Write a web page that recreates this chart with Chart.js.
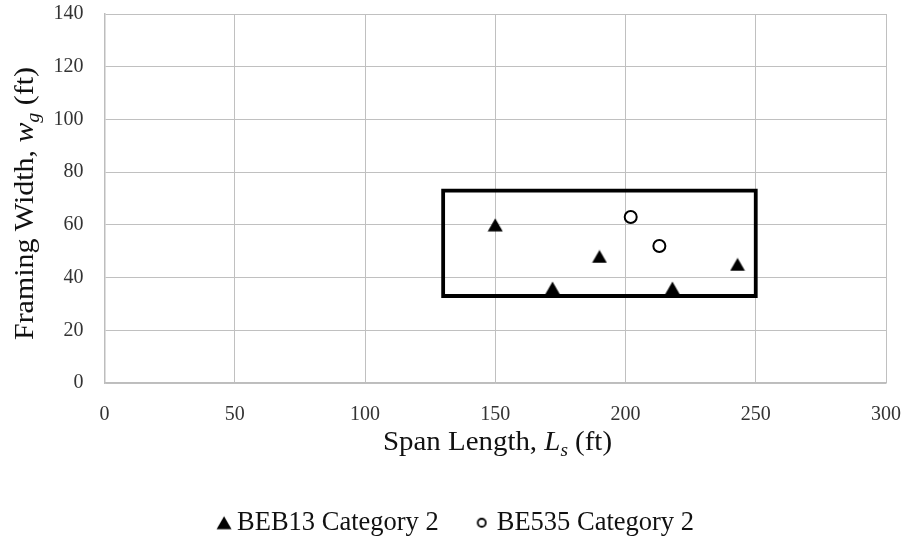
<!DOCTYPE html>
<html>
<head>
<meta charset="utf-8">
<script src="https://cdn.jsdelivr.net/npm/chart.js@4/dist/chart.umd.min.js"></script>
<style>
  html, body { margin: 0; padding: 0; background: #ffffff; }
  canvas { display: block; }
</style>
</head>
<body>
<canvas id="c" width="907" height="539"></canvas>
<script>
// ---- data ----
const bebSpan  = [150, 172, 190, 218, 243];
const bebWidth = [60, 36, 48, 36, 45];
const beSpan   = [202, 213];
const beWidth  = [63, 52];
const boxSpan  = [130, 250, 250, 130, 130];
const boxWidth = [33, 33, 73, 73, 33];
const seriesNames = ['BEB13 Category 2', 'BE535 Category 2'];
const xTitleParts = ['Span Length, ', 'L', 's', ' (ft)'];
const yTitleParts = ['Framing Width, ', 'w', 'g', ' (ft)'];

const SERIF = "'Liberation Serif', 'Times New Roman', serif";

function toPoints(xs, ys) { return xs.map((x, i) => ({ x: x, y: ys[i] })); }

// marker images
function triangleCanvas(w, h, cx) {
  const c = document.createElement('canvas');
  c.width = w; c.height = h;
  const g = c.getContext('2d');
  g.fillStyle = '#000';
  g.beginPath();
  g.moveTo(cx, h / 2 - 6.5);
  g.lineTo(cx + 7.5, h / 2 + 6.5);
  g.lineTo(cx - 7.5, h / 2 + 6.5);
  g.closePath();
  g.fill();
  return c;
}
function circleCanvas(w, h, cx, r, lw) {
  const c = document.createElement('canvas');
  c.width = w; c.height = h;
  const g = c.getContext('2d');
  g.fillStyle = '#fff';
  g.strokeStyle = '#000';
  g.lineWidth = lw;
  g.beginPath();
  g.arc(cx, h / 2, r, 0, Math.PI * 2);
  g.fill();
  g.stroke();
  return c;
}
const triMarker = triangleCanvas(16, 14, 8);
const LEG_B = 31.75;
const legTri = triangleCanvas(100, 16, 50 + LEG_B / 2 + 0.25);
const legCirc = circleCanvas(100, 16, 50 + LEG_B / 2 - 1.75, 4, 1.8);

function drawRich(ctx, parts, cx, base, target, angle) {
  ctx.save();
  let total = 0;
  parts.forEach(p => { ctx.font = p.font; p.w = ctx.measureText(p.text).width; total += p.w; });
  const s = target / total;
  ctx.translate(cx, base);
  ctx.rotate(angle);
  ctx.scale(s, 1);
  ctx.textBaseline = 'alphabetic';
  ctx.textAlign = 'left';
  ctx.fillStyle = '#111';
  let x = -total / 2;
  parts.forEach(p => { ctx.font = p.font; ctx.fillText(p.text, x, p.dy || 0); x += p.w; });
  ctx.restore();
}

const titlePlugin = {
  id: 'richAxisTitles',
  afterDraw(chart) {
    const ctx = chart.ctx;
    const big = '27px ' + SERIF, it = 'italic 27px ' + SERIF, sub = 'italic 18px ' + SERIF;
    drawRich(ctx, [
      { text: xTitleParts[0], font: big },
      { text: xTitleParts[1], font: it },
      { text: xTitleParts[2], font: sub, dy: 6 },
      { text: xTitleParts[3], font: big }
    ], 497.5, 450, 229, 0);
    drawRich(ctx, [
      { text: yTitleParts[0], font: big },
      { text: yTitleParts[1], font: it },
      { text: yTitleParts[2], font: sub, dy: 6 },
      { text: yTitleParts[3], font: big }
    ], 33, 203.5, 273, -Math.PI / 2);
  }
};

const PAD_BOTTOM = -7;
const AREA_BOTTOM = 383;

new Chart(document.getElementById('c'), {
  type: 'scatter',
  data: {
    datasets: [
      {
        label: seriesNames[0],
        data: toPoints(bebSpan, bebWidth),
        pointStyle: triMarker,
        pointRadius: 8,
        backgroundColor: '#000',
        borderColor: '#000',
        order: 1
      },
      {
        label: seriesNames[1],
        data: toPoints(beSpan, beWidth),
        pointStyle: 'circle',
        pointRadius: 6,
        pointBorderWidth: 2,
        backgroundColor: '#fff',
        borderColor: '#000',
        order: 1
      },
      {
        label: 'box',
        data: toPoints(boxSpan, boxWidth),
        showLine: true,
        pointRadius: 0,
        borderColor: '#000',
        borderWidth: 3.8,
        fill: false,
        tension: 0,
        borderJoinStyle: 'miter',
        borderCapStyle: 'square',
        order: 3
      }
    ]
  },
  options: {
    responsive: false,
    animation: false,
    devicePixelRatio: 1,
    events: [],
    layout: { autoPadding: false, padding: { left: 0, right: 21, top: 14, bottom: PAD_BOTTOM } },
    scales: {
      x: {
        type: 'linear',
        min: 0, max: 300,
        ticks: { stepSize: 50, padding: 0, color: '#333', font: { family: SERIF, size: 20 } },
        grid: { color: '#c0c0c0', lineWidth: 1, drawTicks: true, tickLength: 20, tickColor: 'rgba(0,0,0,0)' },
        border: { color: '#bdbdbd', width: 1.5 },
        title: { display: false },
        afterFit(scale) {
          const lg = scale.chart.legend ? scale.chart.legend.height : 50;
          scale.height = scale.chart.height - AREA_BOTTOM - lg - PAD_BOTTOM;
        }
      },
      y: {
        type: 'linear',
        min: 0, max: 140,
        ticks: { stepSize: 20, padding: 0, color: '#333', font: { family: SERIF, size: 20 } },
        grid: { color: '#c0c0c0', lineWidth: 1, drawTicks: true, tickLength: 21, tickColor: 'rgba(0,0,0,0)' },
        border: { color: '#bdbdbd', width: 1.5 },
        title: { display: false },
        afterFit(scale) { scale.width = 104.5; }
      }
    },
    plugins: {
      tooltip: { enabled: false },
      legend: {
        display: true,
        position: 'bottom',
        labels: {
          usePointStyle: true,
          pointStyleWidth: LEG_B,
          padding: 13,
          color: '#111',
          font: { family: SERIF, size: 26.5 },
          generateLabels(chart) {
            const items = Chart.defaults.plugins.legend.labels.generateLabels(chart);
            return items.filter(it => it.datasetIndex < 2).map(it => {
              it.pointStyle = it.datasetIndex === 0 ? legTri : legCirc;
              return it;
            });
          }
        }
      }
    }
  },
  plugins: [titlePlugin]
});
</script>
</body>
</html>
